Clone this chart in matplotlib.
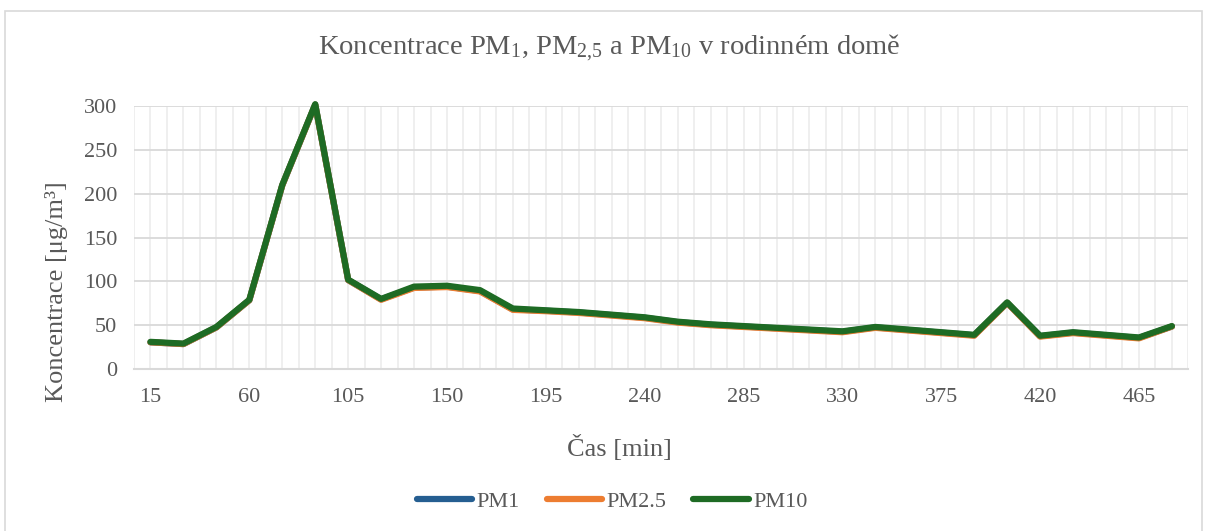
import numpy as np
import matplotlib
matplotlib.use("Agg")
from matplotlib import pyplot as plt
from matplotlib.patches import Rectangle
from matplotlib.ticker import MultipleLocator

# time axis [min]
times = list(range(15, 481, 15))
tick_times = list(range(15, 481, 45))

pm10 = [31, 29, 48, 79, 210, 302, 102, 80, 94, 95, 90, 69, 67, 65, 62, 59,
        54, 51, 49, 47, 45, 43, 48, 45, 42, 39, 76, 38, 42, 39, 36, 49]
pm2_5 = [30.5, 28.5, 47.5, 78.5, 209.5, 301.5, 101.5, 79, 92.5, 93.5, 88.5, 67.5,
         66, 64, 61, 58, 53, 50, 48, 46, 44, 42, 47, 44, 41, 38, 75.5, 37, 41, 38, 35, 48.5]
pm1 = [30.5, 28.5, 47.5, 78.5, 209.5, 301.5, 101.5, 79.5, 93, 94, 89, 68,
       66.5, 64.5, 61.5, 58.5, 53.5, 50.5, 48.5, 46.5, 44.5, 42.5, 47.5, 44.5,
       41.5, 38.5, 75.5, 37.5, 41.5, 38.5, 35.5, 48.5]

series = {"PM1": (pm1, "#255e91"), "PM2.5": (pm2_5, "#ed7d31"), "PM10": (pm10, "#1e6b24")}

plt.rcParams["font.family"] = ["Liberation Serif", "DejaVu Serif"]
plt.rcParams["mathtext.fontset"] = "custom"
plt.rcParams["mathtext.rm"] = "Liberation Serif"
plt.rcParams["mathtext.default"] = "regular"
text_col = "#595959"

fig = plt.figure(figsize=(12.05, 5.31), dpi=100)
ax = fig.add_axes([0.1112, 0.305, 0.875, 0.4954])

x = np.arange(len(times))
for name, (vals, col) in series.items():
    ax.plot(x, vals, color=col, lw=4.5, label=name, clip_on=False,
            solid_capstyle="round", solid_joinstyle="round")

ax.set_xlim(-0.5, len(times) - 0.5)
ax.set_ylim(0, 300)
ax.yaxis.set_major_locator(MultipleLocator(50))
ax.set_xticks([times.index(t) for t in tick_times])
ax.set_xticklabels([str(t) for t in tick_times])
ax.xaxis.set_minor_locator(MultipleLocator(0.5))

ax.grid(axis="y", color="#d9d9d9", lw=1.3)
ax.grid(axis="x", which="both", color="#eeeeee", lw=1.3)
ax.set_axisbelow(True)
for s in ["top", "right", "left"]:
    ax.spines[s].set_visible(False)
ax.spines["bottom"].set_color("#d9d9d9")
ax.spines["bottom"].set_linewidth(1.5)
ax.tick_params(axis="both", which="both", length=0, labelsize=16, labelcolor=text_col)
ax.tick_params(axis="x", pad=14)
ax.tick_params(axis="y", pad=12)

fig.text(0.506, 0.909, r"Koncentrace PM$_{1}$, PM$_{2{,}5}$ a PM$_{10}$ v rodinném domě",
         ha="center", va="center", fontsize=20.5, color=text_col)
fig.text(0.047, 0.45, "Koncentrace [μg/m³]", rotation=90, ha="center", va="center",
         fontsize=19, color=text_col)
fig.text(0.514, 0.156, "Čas [min]", ha="center", va="center", fontsize=19, color=text_col)

leg = fig.legend(loc="center", bbox_to_anchor=(0.508, 0.055), ncol=3, frameon=False,
                 fontsize=16, handlelength=2.5, columnspacing=1.2, handletextpad=0.2)
for t in leg.get_texts():
    t.set_color(text_col)

fig.patches.append(Rectangle((5 / 1205, -0.01), 1197 / 1205, 1 - 11 / 531 + 0.01,
                             transform=fig.transFigure, fill=False,
                             edgecolor="#d9d9d9", lw=1.2))

fig.savefig("out.png", dpi=100)
